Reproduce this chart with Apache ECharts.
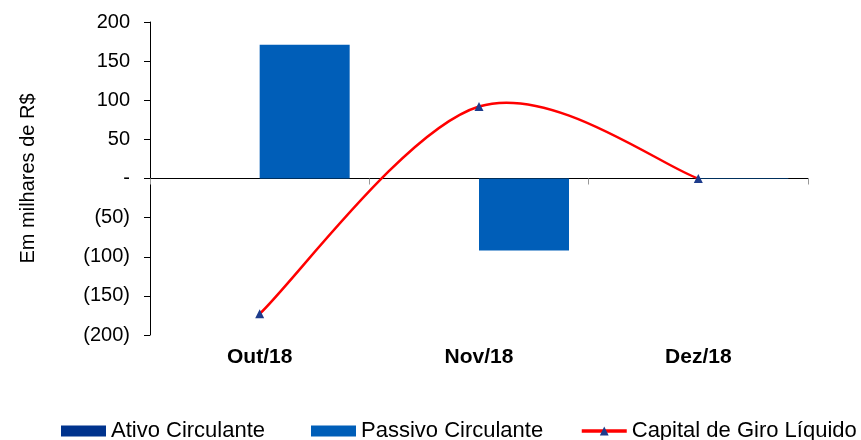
<!DOCTYPE html>
<html><head><meta charset="utf-8">
<script src="https://cdn.jsdelivr.net/npm/echarts@6/dist/echarts.min.js"></script>
<style>html,body{margin:0;padding:0;background:#fff}#c{width:861px;height:440px}</style>
</head><body><div id="c"></div>
<script>
const categories = ['Out/18', 'Nov/18', 'Dez/18'];
const ativoCirculante = [0, 0, 0];
const passivoCirculante = [171, -92, 0.5];
const capitalGiroLiquido = [-173, 92, 0];
const yTicks = {min: -200, max: 200, interval: 50};
const names = ['Ativo Circulante', 'Passivo Circulante', 'Capital de Giro Líquido'];

const font = 'Liberation Sans, Arial, sans-serif';
const RED = '#FF0000', NAVY = '#1E3C8C';
const chart = echarts.init(document.getElementById('c'), null, {renderer: 'canvas'});
function legendAt(left, item, icon) {
  const l = {data: [item], left: left, top: 420, itemWidth: 45, itemHeight: 11, padding: 0, itemGap: 0,
    textStyle: {fontFamily: font, fontSize: 22, color: '#000'}};
  if (icon) l.icon = icon;
  return l;
}
// Excel-like smoothed curve through the data points (Catmull-Rom, tension 1/6)
function curveItem(params, api) {
  if (params.dataIndex !== 0) return null;
  const p = capitalGiroLiquido.map((v, i) => api.coord([i, v]));
  let d = 'M' + p[0][0] + ' ' + p[0][1];
  for (let i = 0; i < p.length - 1; i++) {
    const p0 = p[Math.max(i - 1, 0)], p1 = p[i], p2 = p[i + 1], p3 = p[Math.min(i + 2, p.length - 1)];
    const c1 = [p1[0] + (p2[0] - p0[0]) / 6, p1[1] + (p2[1] - p0[1]) / 6];
    const c2 = [p2[0] - (p3[0] - p1[0]) / 6, p2[1] - (p3[1] - p1[1]) / 6];
    d += ' C' + c1[0] + ' ' + c1[1] + ' ' + c2[0] + ' ' + c2[1] + ' ' + p2[0] + ' ' + p2[1];
  }
  return {type: 'path', shape: {pathData: d}, style: {fill: 'none', stroke: RED, lineWidth: 2.5}};
}
chart.setOption({
  animation: false,
  grid: {left: 150, right: 53, top: 22, bottom: 105},
  legend: [
    legendAt(61, names[0], 'rect'),
    legendAt(311, names[1], 'rect'),
    legendAt(580, {name: names[2], itemStyle: {color: NAVY}, lineStyle: {color: RED, width: 3.5, opacity: 1}})
  ],
  xAxis: [
    {type: 'category', data: categories, position: 'bottom',
     axisLine: {show: false, onZero: false}, axisTick: {show: false},
     axisLabel: {margin: 12, fontFamily: font, fontSize: 21, fontWeight: 'bold', color: '#000'}},
    {type: 'category', data: categories, position: 'bottom',
     axisLine: {show: true, onZero: true, lineStyle: {color: '#000', width: 1}},
     axisTick: {show: true, length: 6, lineStyle: {color: '#999'}},
     axisLabel: {show: false}}
  ],
  yAxis: {type: 'value', min: yTicks.min, max: yTicks.max, interval: yTicks.interval,
    name: 'Em milhares de R$', nameLocation: 'middle', nameGap: 112,
    nameTextStyle: {fontFamily: font, fontSize: 20, color: '#000', padding: [0, 0, 0, 0]},
    axisLine: {show: true, lineStyle: {color: '#000'}},
    axisTick: {show: true, length: 6, lineStyle: {color: '#000'}},
    splitLine: {show: false},
    axisLabel: {margin: 20, fontFamily: font, fontSize: 20, color: '#000',
      formatter: v => v === 0 ? '-' : (v < 0 ? '(' + (-v) + ')' : String(v))}},
  series: [
    {name: names[0], type: 'bar', data: ativoCirculante, barWidth: 90, barGap: '0%',
     itemStyle: {color: '#00338D'}},
    {name: names[1], type: 'bar', data: passivoCirculante, barWidth: 90, barGap: '0%',
     itemStyle: {color: '#005EB8'}},
    {name: '_curve', type: 'custom', coordinateSystem: 'cartesian2d',
     data: capitalGiroLiquido.map((v, i) => [i, v]), encode: {x: 0, y: 1},
     renderItem: curveItem, silent: true, z: 4},
    {name: names[2], type: 'line', data: capitalGiroLiquido,
     symbol: 'triangle', symbolSize: 9, itemStyle: {color: NAVY},
     lineStyle: {color: RED, width: 2.5, opacity: 0}, z: 5}
  ]
});
</script></body></html>
